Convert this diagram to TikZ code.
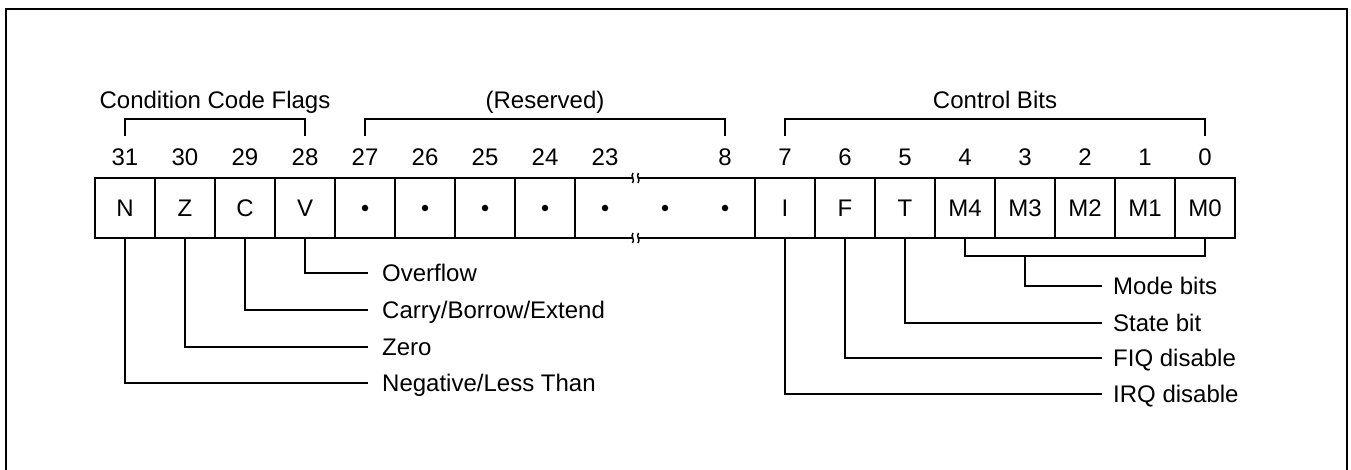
\documentclass[tikz,border=0pt]{standalone}
\usepackage{fontspec}
\setmainfont{Liberation Sans}
\begin{document}
\begin{tikzpicture}[x=1pt,y=-1pt,
  every node/.style={font=\fontsize{24}{28}\selectfont},
  cell/.style={draw,line width=1.6pt,minimum width=60pt,minimum height=60pt,inner sep=0pt,text height=17pt,text depth=0pt},
  num/.style={inner sep=0pt,text height=17pt,text depth=0pt},
  lbl/.style={anchor=west,inner sep=0pt,text height=17pt,text depth=0pt},
  conn/.style={line width=1.6pt},
  dotmark/.style={circle,fill,inner sep=0pt,minimum size=6.5pt},
  brk/.style={line width=1.5pt}]
\useasboundingbox (0,0) rectangle (1351,470);
\clip (0,0) rectangle (1351,470);
\draw[line width=2.2pt] (6,490) -- (6,9) -- (1347,9) -- (1347,490);

% group labels and brackets
\node[num] (gccf) at (215,100) {Condition Code Flags};
\node[num] (gres) at (545,100) {(Reserved)};
\node[num] (gctl) at (995,100) {Control Bits};
\draw[conn] (125,136) -- (125,119) -- (305,119) -- (305,136);
\draw[conn] (365,136) -- (365,119) -- (725,119) -- (725,136);
\draw[conn] (785,136) -- (785,119) -- (1205,119) -- (1205,136);

% bit numbers
\node[num] (n31) at (125,157) {31};
\node[num] (n30) at (185,157) {30};
\node[num] (n29) at (245,157) {29};
\node[num] (n28) at (305,157) {28};
\node[num] (n27) at (365,157) {27};
\node[num] (n26) at (425,157) {26};
\node[num] (n25) at (485,157) {25};
\node[num] (n24) at (545,157) {24};
\node[num] (n23) at (605,157) {23};
\node[num] (n8) at (725,157) {8};
\node[num] (n7) at (785,157) {7};
\node[num] (n6) at (845,157) {6};
\node[num] (n5) at (905,157) {5};
\node[num] (n4) at (965,157) {4};
\node[num] (n3) at (1025,157) {3};
\node[num] (n2) at (1085,157) {2};
\node[num] (n1) at (1145,157) {1};
\node[num] (n0) at (1205,157) {0};

% cells
\node[cell] (c31) at (125,208) {N};
\node[cell] (c30) at (185,208) {Z};
\node[cell] (c29) at (245,208) {C};
\node[cell] (c28) at (305,208) {V};
\node[cell] (c27) at (365,208) {};
\node[cell] (c26) at (425,208) {};
\node[cell] (c25) at (485,208) {};
\node[cell] (c24) at (545,208) {};
\node[cell,minimum width=180pt] (cres) at (665,208) {};
\node[cell] (c7) at (785,208) {I};
\node[cell] (c6) at (845,208) {F};
\node[cell] (c5) at (905,208) {T};
\node[cell] (c4) at (965,208) {M4};
\node[cell] (c3) at (1025,208) {M3};
\node[cell] (c2) at (1085,208) {M2};
\node[cell] (c1) at (1145,208) {M1};
\node[cell] (c0) at (1205,208) {M0};

% dots
\node[dotmark] (d27) at (365,208) {};
\node[dotmark] (d26) at (425,208) {};
\node[dotmark] (d25) at (485,208) {};
\node[dotmark] (d24) at (545,208) {};
\node[dotmark] (d23) at (605,208) {};
\node[dotmark] (dmid) at (665,208) {};
\node[dotmark] (d8) at (725,208) {};

% break marks
\foreach \yy in {178,238} {
  \fill[white] (632.5,\yy-2) rectangle (638.5,\yy+2);
  \draw[brk] (633,\yy-5) .. controls (630,\yy-1.5) and (635.5,\yy+1.5) .. (632.5,\yy+5);
  \draw[brk] (638.5,\yy-5) .. controls (635.5,\yy-1.5) and (641,\yy+1.5) .. (638,\yy+5);
}

% left descriptions
\node[lbl] (ovf) at (382,273) {Overflow};
\node[lbl] (cbe) at (382,310) {Carry/Borrow/Extend};
\node[lbl] (zro) at (382,347) {Zero};
\node[lbl] (neg) at (382,383) {Negative/Less Than};
\draw[conn,shorten >=14pt] (c28.south) |- (ovf.west);
\draw[conn,shorten >=14pt] (c29.south) |- (cbe.west);
\draw[conn,shorten >=14pt] (c30.south) |- (zro.west);
\draw[conn,shorten >=14pt] (c31.south) |- (neg.west);

% right descriptions
\coordinate (mb) at (1025,256);
\node[lbl] (mode) at (1113,286) {Mode bits};
\node[lbl] (state) at (1113,323) {State bit};
\node[lbl] (fiq) at (1113,358) {FIQ disable};
\node[lbl] (irq) at (1113,394) {IRQ disable};
\draw[conn] (c4.south) |- (mb) -| (c0.south);
\draw[conn,shorten >=11pt] (mb) |- (mode.west);
\draw[conn,shorten >=11pt] (c5.south) |- (state.west);
\draw[conn,shorten >=11pt] (c6.south) |- (fiq.west);
\draw[conn,shorten >=11pt] (c7.south) |- (irq.west);
\end{tikzpicture}
\end{document}
